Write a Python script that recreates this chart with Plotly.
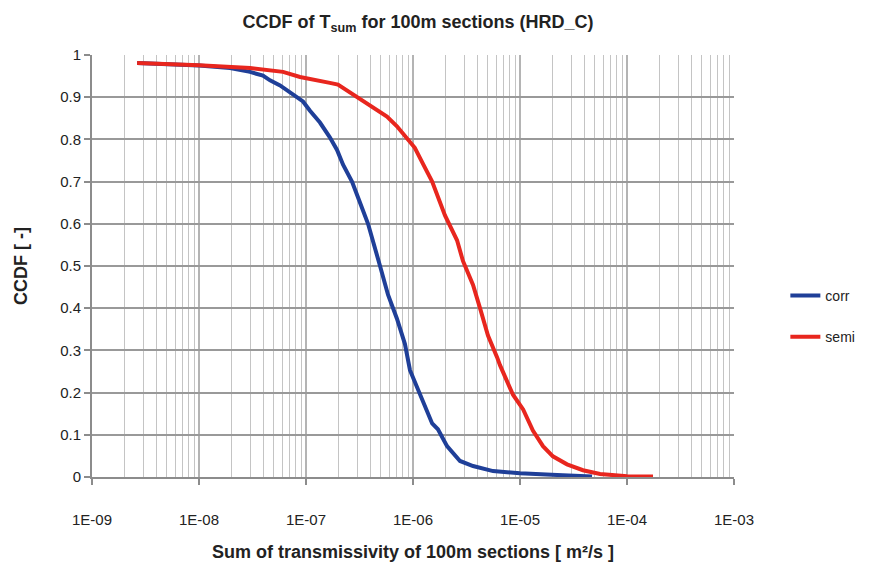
import plotly.graph_objects as go

# Data (transmissivity sum [m2/s], CCDF)
corr_T = [2.64e-9, 5.36e-9, 1.0e-8, 1.95e-8, 3.0e-8, 3.96e-8, 4.61e-8, 5.72e-8, 7.56e-8, 9.37e-8,
          1.09e-7, 1.35e-7, 1.67e-7, 1.95e-7, 2.22e-7, 2.69e-7, 3.2e-7, 3.8e-7, 4.92e-7, 5.84e-7,
          7.08e-7, 8.41e-7, 9.37e-7, 1.16e-6, 1.51e-6, 1.71e-6, 2.08e-6, 2.75e-6, 3.64e-6, 5.6e-6,
          1.0e-5, 2.22e-5, 4.71e-5]
corr_P = [0.981, 0.979, 0.975, 0.969, 0.960, 0.951, 0.940, 0.928, 0.906, 0.890,
          0.868, 0.840, 0.805, 0.775, 0.740, 0.700, 0.650, 0.600, 0.500, 0.432,
          0.375, 0.315, 0.253, 0.197, 0.127, 0.113, 0.073, 0.038, 0.026, 0.014,
          0.009, 0.005, 0.001]

semi_T = [2.64e-9, 1.0e-8, 3.0e-8, 6.1e-8, 8.79e-8, 1.27e-7, 1.67e-7, 1.99e-7, 2.22e-7, 2.58e-7,
          3.0e-7, 3.72e-7, 5.71e-7, 7.08e-7, 8.79e-7, 1.04e-6, 1.24e-6, 1.51e-6, 1.99e-6, 2.58e-6,
          2.93e-6, 3.64e-6, 4.23e-6, 5.02e-6, 6.1e-6, 6.5e-6, 8.6e-6, 1.07e-5, 1.32e-5, 1.64e-5,
          2.03e-5, 2.75e-5, 3.88e-5, 5.6e-5, 1.0e-4, 1.75e-4]
semi_P = [0.981, 0.976, 0.969, 0.960, 0.948, 0.941, 0.934, 0.930, 0.922, 0.913,
          0.901, 0.885, 0.854, 0.831, 0.803, 0.780, 0.742, 0.700, 0.620, 0.561,
          0.512, 0.455, 0.400, 0.335, 0.284, 0.265, 0.195, 0.160, 0.110, 0.073,
          0.049, 0.030, 0.016, 0.007, 0.002, 0.001]

x_tickvals = [1e-9, 1e-8, 1e-7, 1e-6, 1e-5, 1e-4, 1e-3]
x_ticktext = ["1E-09", "1E-08", "1E-07", "1E-06", "1E-05", "1E-04", "1E-03"]
y_tickvals = [0, 0.1, 0.2, 0.3, 0.4, 0.5, 0.6, 0.7, 0.8, 0.9, 1]
y_ticktext = ["0", "0.1", "0.2", "0.3", "0.4", "0.5", "0.6", "0.7", "0.8", "0.9", "1"]

FONT = "Liberation Sans Narrow, Arial Narrow, Liberation Sans, Arial, sans-serif"

fig = go.Figure()
fig.add_trace(go.Scatter(x=corr_T, y=corr_P, mode="lines", name="corr", legendgroup="corr",
                         line=dict(color="#1f3f98", width=4)))
fig.add_trace(go.Scatter(x=semi_T, y=semi_P, mode="lines", name="semi", legendgroup="semi",
                         line=dict(color="#e8261e", width=4)))

fig.update_layout(
    width=872, height=571,
    margin=dict(l=92, r=138, t=55, b=90),
    paper_bgcolor="white", plot_bgcolor="white",
    font=dict(family=FONT, size=14, color="#222222"),
    title=dict(text="<b>CCDF of T<sub>sum</sub> for 100m sections (HRD_C)</b>",
               x=418/872, xanchor="center", y=1-22/571, yanchor="middle",
               font=dict(family=FONT, size=18, color="#222222")),
    legend=dict(x=1.08, y=0.467, xanchor="left", yanchor="top",
                font=dict(family=FONT, size=14, color="#222222"),
                tracegroupgap=20, bgcolor="rgba(0,0,0,0)"),
    showlegend=True,
)

fig.update_xaxes(
    type="log", range=[-9, -3],
    tickvals=x_tickvals, ticktext=x_ticktext,
    showgrid=True, gridcolor="#b4b4b4", gridwidth=1.5,
    minor=dict(dtick="D1", showgrid=True, gridcolor="#c4c4c4", gridwidth=1.3, ticks=""),
    showline=True, linecolor="#8c8c8c", linewidth=2,
    ticks="outside", ticklen=6, tickcolor="#8c8c8c", tickwidth=2,
    ticklabelstandoff=22,
    tickfont=dict(family=FONT, size=15, color="#222222"),
    title=dict(text="<b>Sum of transmissivity of 100m sections [ m²/s ]</b>",
               font=dict(family=FONT, size=18, color="#222222"), standoff=18),
    zeroline=False, mirror=False,
)
fig.update_yaxes(
    range=[0, 1], tickvals=y_tickvals, ticktext=y_ticktext,
    showgrid=True, gridcolor="#999999", gridwidth=2,
    showline=True, linecolor="#8c8c8c", linewidth=2,
    ticks="outside", ticklen=6, tickcolor="#8c8c8c", tickwidth=2,
    tickfont=dict(family=FONT, size=15, color="#222222"),
    title=dict(text="<b>CCDF [ -]</b>",
               font=dict(family=FONT, size=18, color="#222222"), standoff=28),
    zeroline=False,
)

fig.write_html("out.html")
